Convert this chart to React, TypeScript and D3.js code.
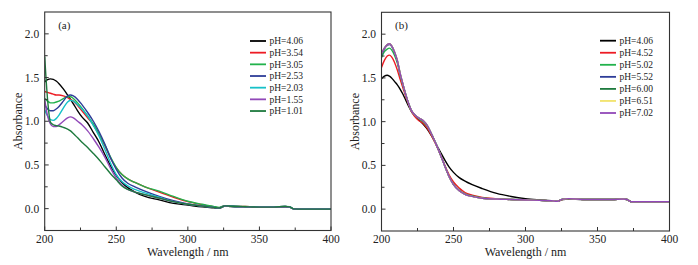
import React from "react";
import * as d3 from "d3";

// ---------- Panel (a) data ----------
const wlA = [200, 202, 204, 206, 208, 210, 213, 216, 218, 220, 223, 226, 230, 234, 238, 242, 246, 250, 254, 258, 263, 270, 280, 290, 300, 310, 318, 322, 326, 330, 340, 350, 360, 368, 371, 374, 380, 400];

const a406 = [1.45, 1.475, 1.485, 1.48, 1.46, 1.43, 1.37, 1.30, 1.25, 1.20, 1.12, 1.05, 0.98, 0.87, 0.76, 0.62, 0.49, 0.38, 0.30, 0.24, 0.19, 0.14, 0.10, 0.06, 0.04, 0.02, 0.01, 0.005, 0.03, 0.025, 0.02, 0.015, 0.015, 0.022, 0.018, -0.004, -0.005, -0.005];
const a354 = [1.34, 1.33, 1.32, 1.31, 1.30, 1.30, 1.29, 1.27, 1.25, 1.23, 1.18, 1.12, 1.04, 0.96, 0.84, 0.72, 0.58, 0.47, 0.39, 0.34, 0.30, 0.25, 0.19, 0.13, 0.08, 0.045, 0.02, 0.01, 0.035, 0.03, 0.025, 0.02, 0.02, 0.025, 0.02, -0.002, -0.005, -0.005];
const a305 = [1.26, 1.23, 1.21, 1.21, 1.22, 1.23, 1.26, 1.28, 1.28, 1.26, 1.21, 1.15, 1.06, 0.97, 0.86, 0.73, 0.59, 0.47, 0.39, 0.34, 0.30, 0.25, 0.20, 0.14, 0.085, 0.05, 0.025, 0.015, 0.035, 0.03, 0.025, 0.02, 0.02, 0.026, 0.022, -0.002, -0.005, -0.005];
const a253 = [1.19, 1.14, 1.12, 1.12, 1.14, 1.17, 1.23, 1.29, 1.30, 1.29, 1.25, 1.19, 1.10, 1.00, 0.88, 0.74, 0.58, 0.45, 0.35, 0.29, 0.25, 0.20, 0.14, 0.09, 0.055, 0.03, 0.015, 0.008, 0.032, 0.028, 0.022, 0.018, 0.018, 0.024, 0.02, -0.003, -0.005, -0.005];
const a203 = [1.13, 1.06, 1.02, 1.01, 1.03, 1.07, 1.15, 1.22, 1.24, 1.23, 1.19, 1.14, 1.06, 0.95, 0.83, 0.68, 0.52, 0.39, 0.31, 0.26, 0.22, 0.18, 0.13, 0.08, 0.05, 0.03, 0.015, 0.008, 0.032, 0.028, 0.022, 0.018, 0.018, 0.024, 0.02, -0.003, -0.005, -0.005];
const a155 = [1.25, 1.06, 0.97, 0.94, 0.94, 0.96, 1.00, 1.04, 1.05, 1.04, 1.00, 0.96, 0.89, 0.80, 0.70, 0.59, 0.46, 0.35, 0.27, 0.22, 0.19, 0.16, 0.12, 0.08, 0.05, 0.03, 0.015, 0.008, 0.03, 0.026, 0.02, 0.016, 0.016, 0.022, 0.018, -0.004, -0.005, -0.005];
const a101 = [1.74, 1.25, 0.99, 0.96, 0.95, 0.945, 0.93, 0.91, 0.89, 0.86, 0.81, 0.76, 0.70, 0.63, 0.56, 0.48, 0.40, 0.33, 0.26, 0.22, 0.19, 0.16, 0.12, 0.08, 0.05, 0.03, 0.015, 0.008, 0.032, 0.028, 0.022, 0.018, 0.018, 0.024, 0.02, -0.003, -0.005, -0.005];

const labelsA = ["pH=4.06", "pH=3.54", "pH=3.05", "pH=2.53", "pH=2.03", "pH=1.55", "pH=1.01"];
const colorsA = ["#000000", "#ed1c24", "#22b24c", "#2e3d98", "#17c1c8", "#9148b8", "#1e7a3e"];
const seriesA = [a406, a354, a305, a253, a203, a155, a101];

// ---------- Panel (b) data ----------
const wlB = [200, 202, 204, 205.5, 207, 209, 211, 213, 215, 217, 219, 221, 223, 226, 229, 232, 235, 238, 241, 244, 247, 250, 254, 258, 263, 270, 280, 290, 300, 310, 318, 322, 326, 330, 340, 350, 360, 368, 370.5, 373.5, 380, 400];

const b406 = [1.49, 1.52, 1.53, 1.52, 1.50, 1.46, 1.42, 1.37, 1.31, 1.24, 1.17, 1.11, 1.07, 1.02, 0.97, 0.91, 0.83, 0.74, 0.65, 0.56, 0.48, 0.42, 0.36, 0.32, 0.28, 0.235, 0.18, 0.145, 0.12, 0.105, 0.095, 0.09, 0.11, 0.115, 0.11, 0.11, 0.11, 0.115, 0.11, 0.085, 0.085, 0.085];
const b452 = [1.62, 1.70, 1.75, 1.76, 1.74, 1.68, 1.59, 1.48, 1.38, 1.28, 1.19, 1.11, 1.06, 1.01, 0.98, 0.92, 0.83, 0.73, 0.62, 0.50, 0.39, 0.31, 0.24, 0.19, 0.16, 0.135, 0.12, 0.11, 0.105, 0.1, 0.095, 0.09, 0.112, 0.118, 0.11, 0.11, 0.11, 0.115, 0.11, 0.085, 0.085, 0.085];
const b502 = [1.73, 1.80, 1.83, 1.84, 1.82, 1.76, 1.67, 1.53, 1.41, 1.30, 1.20, 1.12, 1.08, 1.03, 1.00, 0.94, 0.85, 0.74, 0.62, 0.49, 0.37, 0.285, 0.215, 0.175, 0.15, 0.128, 0.116, 0.11, 0.105, 0.1, 0.095, 0.09, 0.114, 0.12, 0.11, 0.11, 0.11, 0.115, 0.11, 0.085, 0.085, 0.085];
const b552 = [1.76, 1.83, 1.87, 1.88, 1.86, 1.79, 1.69, 1.54, 1.42, 1.30, 1.20, 1.12, 1.08, 1.04, 1.01, 0.95, 0.85, 0.74, 0.62, 0.49, 0.37, 0.28, 0.21, 0.17, 0.145, 0.125, 0.115, 0.11, 0.105, 0.1, 0.095, 0.09, 0.115, 0.12, 0.11, 0.11, 0.11, 0.115, 0.11, 0.085, 0.085, 0.085];
const b600 = [1.77, 1.84, 1.88, 1.89, 1.87, 1.80, 1.70, 1.55, 1.42, 1.30, 1.20, 1.12, 1.08, 1.04, 1.01, 0.95, 0.85, 0.74, 0.62, 0.49, 0.37, 0.28, 0.21, 0.17, 0.145, 0.125, 0.115, 0.11, 0.105, 0.1, 0.095, 0.09, 0.115, 0.12, 0.11, 0.11, 0.11, 0.115, 0.11, 0.085, 0.085, 0.085];
const b651 = [1.78, 1.84, 1.88, 1.89, 1.87, 1.80, 1.70, 1.55, 1.42, 1.30, 1.20, 1.12, 1.08, 1.04, 1.01, 0.95, 0.85, 0.74, 0.62, 0.49, 0.37, 0.28, 0.21, 0.17, 0.145, 0.125, 0.115, 0.11, 0.105, 0.1, 0.095, 0.09, 0.115, 0.12, 0.11, 0.11, 0.11, 0.115, 0.11, 0.085, 0.085, 0.085];
const b702 = [1.78, 1.84, 1.88, 1.89, 1.87, 1.80, 1.70, 1.55, 1.42, 1.30, 1.20, 1.12, 1.08, 1.04, 1.01, 0.95, 0.85, 0.74, 0.62, 0.49, 0.37, 0.28, 0.21, 0.17, 0.145, 0.125, 0.115, 0.11, 0.105, 0.1, 0.095, 0.09, 0.115, 0.12, 0.11, 0.11, 0.11, 0.115, 0.11, 0.085, 0.085, 0.085];

const labelsB = ["pH=4.06", "pH=4.52", "pH=5.02", "pH=5.52", "pH=6.00", "pH=6.51", "pH=7.02"];
const colorsB = ["#000000", "#ed1c24", "#22b24c", "#2e3d98", "#1e7a3e", "#f2e36b", "#9148b8"];
const seriesB = [b406, b452, b502, b552, b600, b651, b702];

const xTicks = [200, 250, 300, 350, 400];
const xMinor = [225, 275, 325, 375];
const yTicks = [0.0, 0.5, 1.0, 1.5, 2.0];
const yMinor = [0.25, 0.75, 1.25, 1.75];

const FONT = "'Liberation Serif', 'Times New Roman', serif";
const AXIS = "#333";

type PanelProps = {
  x0: number; x1: number; y0: number; y1: number;
  wl: number[]; series: number[][]; labels: string[]; colors: string[];
  tag: string; legendX: number; legendY: number; legendStep: number;
};

function Panel(p: PanelProps) {
  const x = d3.scaleLinear().domain([200, 400]).range([p.x0, p.x1]);
  const y = d3.scaleLinear().domain([-0.25, 2.25]).range([p.y1, p.y0]);
  const line = d3.line<[number, number]>()
    .x((d) => x(d[0]))
    .y((d) => y(d[1]))
    .curve(d3.curveMonotoneX);
  const clipId = "clip" + p.tag.replace(/[()]/g, "");
  return (
    <g>
      <defs>
        <clipPath id={clipId}>
          <rect x={p.x0} y={p.y0} width={p.x1 - p.x0} height={p.y1 - p.y0} />
        </clipPath>
      </defs>
      <g clipPath={`url(#${clipId})`}>
        {p.series.map((vals, i) => (
          <path key={i} d={line(p.wl.map((w, j) => [w, vals[j]] as [number, number])) || ""}
            fill="none" stroke={p.colors[i]} strokeWidth={1.4} strokeLinejoin="round" />
        ))}
      </g>
      <rect x={p.x0} y={p.y0} width={p.x1 - p.x0} height={p.y1 - p.y0} fill="none" stroke={AXIS} strokeWidth={1.1} />
      {xTicks.map((t) => (
        <g key={"xt" + t}>
          <line x1={x(t)} x2={x(t)} y1={p.y1} y2={p.y1 - 4} stroke={AXIS} strokeWidth={1} />
          <text x={x(t)} y={p.y1 + 12.3} textAnchor="middle" fontSize={11.5} fontFamily={FONT} fill="#222">{t}</text>
        </g>
      ))}
      {xMinor.map((t) => (
        <line key={"xm" + t} x1={x(t)} x2={x(t)} y1={p.y1} y2={p.y1 - 3} stroke={AXIS} strokeWidth={1} />
      ))}
      {yTicks.map((t) => (
        <g key={"yt" + t}>
          <line x1={p.x0} x2={p.x0 + 4} y1={y(t)} y2={y(t)} stroke={AXIS} strokeWidth={1} />
          <text x={p.x0 - 5.5} y={y(t) + 4} textAnchor="end" fontSize={11.5} fontFamily={FONT} fill="#222">{t.toFixed(1)}</text>
        </g>
      ))}
      {yMinor.map((t) => (
        <line key={"ym" + t} x1={p.x0} x2={p.x0 + 3} y1={y(t)} y2={y(t)} stroke={AXIS} strokeWidth={1} />
      ))}
      <text x={(p.x0 + p.x1) / 2} y={255.5} textAnchor="middle" fontSize={12} fontFamily={FONT} fill="#222">Wavelength / nm</text>
      <text transform={`translate(${p.x0 - 23},${(p.y0 + p.y1) / 2}) rotate(-90)`} textAnchor="middle" fontSize={12} fontFamily={FONT} fill="#222">Absorbance</text>
      <text x={p.x0 + 13.5} y={29} fontSize={11} fontFamily={FONT} fill="#222">{p.tag}</text>
      {p.labels.map((lab, i) => (
        <g key={"lg" + i}>
          <line x1={p.legendX} x2={p.legendX + 16} y1={p.legendY + i * p.legendStep} y2={p.legendY + i * p.legendStep}
            stroke={p.colors[i]} strokeWidth={1.8} />
          <text x={p.legendX + 19.5} y={p.legendY + i * p.legendStep + 3.3} fontSize={9.5} fontFamily={FONT} fill="#222">{lab}</text>
        </g>
      ))}
    </g>
  );
}

export default function App() {
  return (
    <svg width={698} height={265} style={{ position: "absolute", left: 0, top: 0, background: "#fff" }}>
      <Panel x0={44.7} x1={331} y0={12} y1={230.5} wl={wlA} series={seriesA} labels={labelsA} colors={colorsA}
        tag="(a)" legendX={250} legendY={41} legendStep={11.67} />
      <Panel x0={381.5} x1={669.5} y0={12.3} y1={231} wl={wlB} series={seriesB} labels={labelsB} colors={colorsB}
        tag="(b)" legendX={600} legendY={40.7} legendStep={12.05} />
    </svg>
  );
}
